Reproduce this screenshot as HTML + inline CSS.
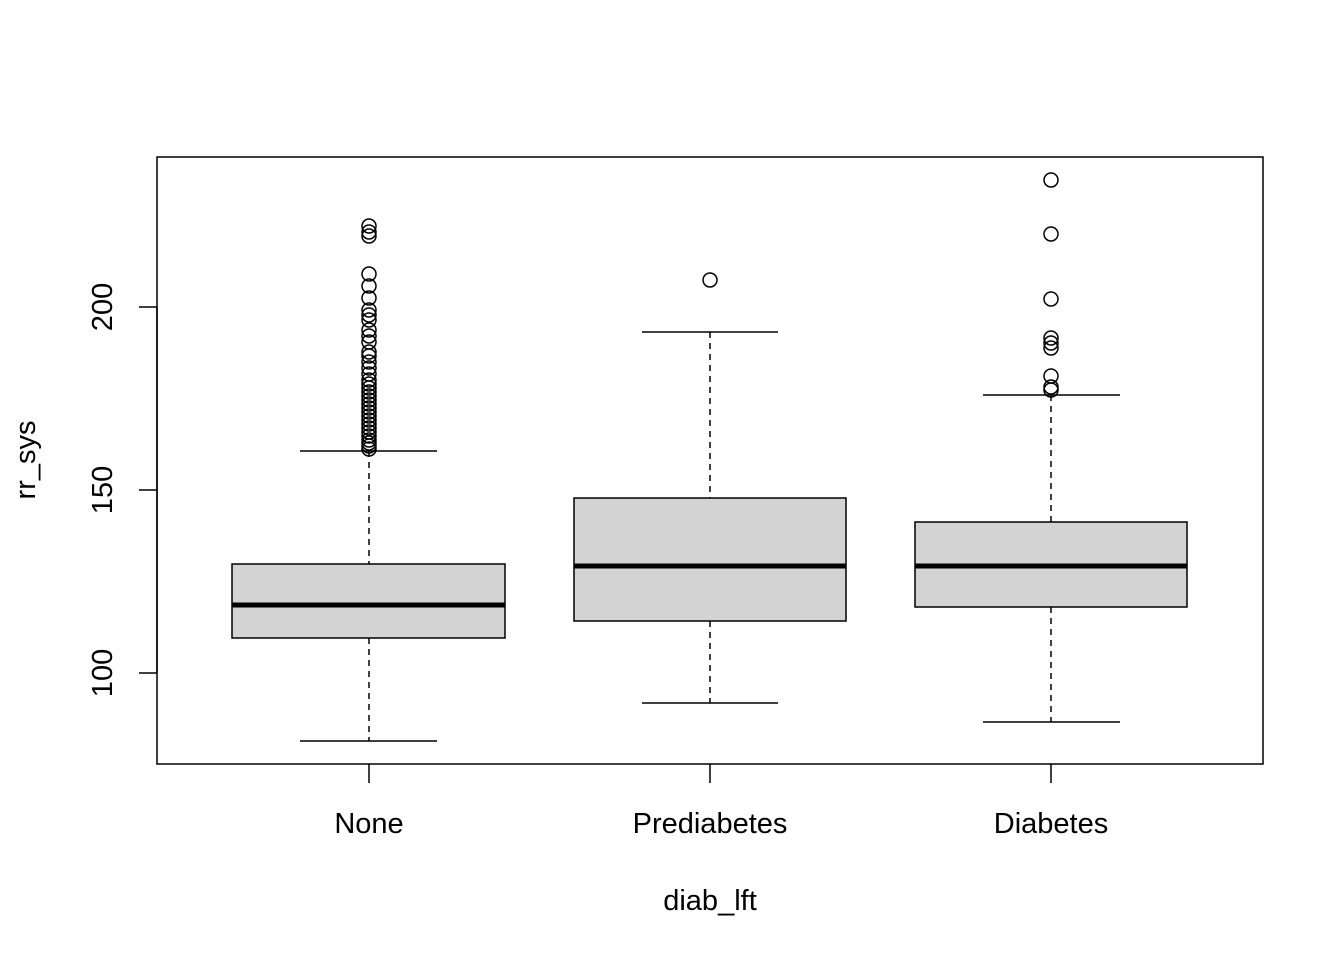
<!DOCTYPE html>
<html><head><style>body{margin:0;background:#fff}svg{display:block}text{font-family:"Liberation Sans",Arial,sans-serif;font-size:29px;fill:#000}</style></head><body>
<svg width="1344" height="960" viewBox="0 0 1344 960" xmlns="http://www.w3.org/2000/svg">
<g stroke="#000" stroke-width="1.5" fill="none">
<rect x="157" y="157" width="1106" height="607"/>
<!-- y axis -->
<line x1="157" y1="307" x2="157" y2="673"/>
<line x1="157" y1="307" x2="139" y2="307"/><line x1="157" y1="490" x2="139" y2="490"/><line x1="157" y1="673" x2="139" y2="673"/>
<!-- x ticks -->
<line x1="369" y1="764" x2="369" y2="783"/><line x1="710" y1="764" x2="710" y2="783"/><line x1="1051" y1="764" x2="1051" y2="783"/>
<!-- whiskers -->
<g stroke-dasharray="6,5">
<line x1="369" y1="451" x2="369" y2="564"/><line x1="369" y1="638" x2="369" y2="741"/>
<line x1="710" y1="332" x2="710" y2="498"/><line x1="710" y1="621" x2="710" y2="703"/>
<line x1="1051" y1="395" x2="1051" y2="522"/><line x1="1051" y1="607" x2="1051" y2="722"/>
</g>
<line x1="300" y1="451" x2="437" y2="451"/><line x1="300" y1="741" x2="437" y2="741"/>
<line x1="642" y1="332" x2="778" y2="332"/><line x1="642" y1="703" x2="778" y2="703"/>
<line x1="983" y1="395" x2="1120" y2="395"/><line x1="983" y1="722" x2="1120" y2="722"/>
</g>
<g stroke="#000" stroke-width="1.5" fill="#d3d3d3">
<rect x="232" y="564" width="273" height="74"/>
<rect x="574" y="498" width="272" height="123"/>
<rect x="915" y="522" width="272" height="85"/>
</g>
<g stroke="#000" stroke-width="5">
<line x1="232" y1="605" x2="505" y2="605"/>
<line x1="574" y1="566" x2="846" y2="566"/>
<line x1="915" y1="566" x2="1187" y2="566"/>
</g>
<g stroke="#000" stroke-width="1.5" fill="none">
<circle cx="369" cy="226" r="7"/><circle cx="369" cy="232" r="7"/><circle cx="369" cy="236" r="7"/>
<circle cx="369" cy="274" r="7"/><circle cx="369" cy="286" r="7"/><circle cx="369" cy="298" r="7"/>
<circle cx="369" cy="310" r="7"/><circle cx="369" cy="315" r="7"/><circle cx="369" cy="320" r="7"/>
<circle cx="369" cy="330" r="7"/><circle cx="369" cy="336" r="7"/><circle cx="369" cy="342" r="7"/>
<circle cx="369" cy="352" r="7"/><circle cx="369" cy="356" r="7"/><circle cx="369" cy="362" r="7"/>
<circle cx="369" cy="368" r="7"/><circle cx="369" cy="374" r="7"/><circle cx="369" cy="380" r="7"/>
<circle cx="369" cy="384" r="7"/><circle cx="369" cy="388" r="7"/><circle cx="369" cy="392" r="7"/>
<circle cx="369" cy="396" r="7"/><circle cx="369" cy="400" r="7"/><circle cx="369" cy="404" r="7"/>
<circle cx="369" cy="408" r="7"/><circle cx="369" cy="412" r="7"/><circle cx="369" cy="416" r="7"/>
<circle cx="369" cy="420" r="7"/><circle cx="369" cy="424" r="7"/><circle cx="369" cy="428" r="7"/>
<circle cx="369" cy="432" r="7"/><circle cx="369" cy="436" r="7"/><circle cx="369" cy="440" r="7"/>
<circle cx="369" cy="443" r="7"/><circle cx="369" cy="446" r="7"/><circle cx="369" cy="449" r="7"/>
<circle cx="710" cy="280" r="7"/>
<circle cx="1051" cy="180" r="7"/><circle cx="1051" cy="234" r="7"/><circle cx="1051" cy="299" r="7"/>
<circle cx="1051" cy="338" r="7"/><circle cx="1051" cy="343" r="7"/><circle cx="1051" cy="348" r="7"/>
<circle cx="1051" cy="376" r="7"/><circle cx="1051" cy="387" r="7"/><circle cx="1051" cy="390" r="7"/>
</g>
<g text-anchor="middle">
<text transform="translate(112,307) rotate(-90)">200</text>
<text transform="translate(112,490) rotate(-90)">150</text>
<text transform="translate(112,673) rotate(-90)">100</text>
<text x="369" y="833">None</text>
<text x="710" y="833">Prediabetes</text>
<text x="1051" y="833">Diabetes</text>
<text x="710" y="910">diab_lft</text>
<text transform="translate(35,460) rotate(-90)">rr_sys</text>
</g>
</svg>
</body></html>
